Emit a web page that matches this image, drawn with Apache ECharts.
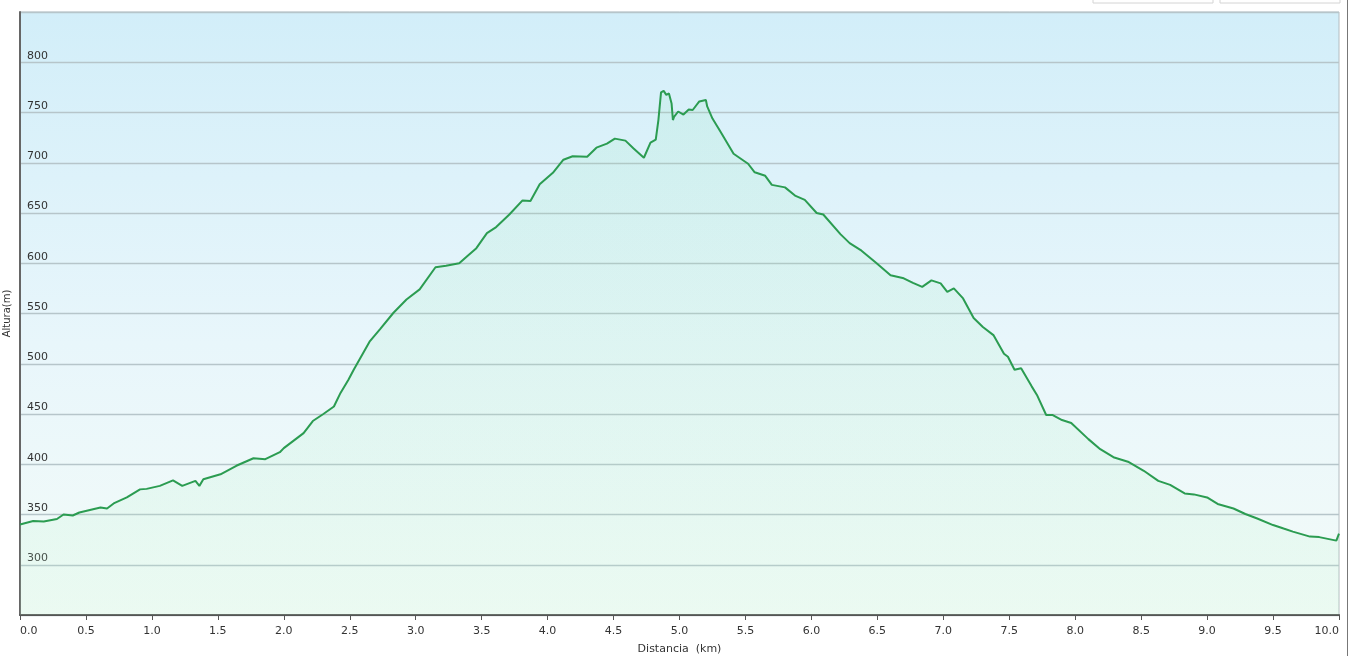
<!DOCTYPE html>
<html>
<head>
<meta charset="utf-8">
<script src="https://cdn.jsdelivr.net/npm/echarts@6/dist/echarts.min.js"></script>
<style>
  html, body { margin: 0; padding: 0; background: #fff; }
  #chart { width: 1352px; height: 656px; }
</style>
</head>
<body>
<div id="chart"></div>
<script>
// perfil de altura: distancia (km) y altura (m)
var distancia = [
  0, 0.1, 0.18, 0.28, 0.33, 0.40, 0.45, 0.61, 0.66, 0.71,
  0.81, 0.91, 0.96, 1.06, 1.16, 1.23, 1.33, 1.36, 1.39, 1.52,
  1.64, 1.77, 1.86, 1.97, 2.0, 2.1, 2.15, 2.22, 2.30, 2.38,
  2.43, 2.49, 2.53, 2.65, 2.73, 2.83, 2.93, 3.03, 3.15, 3.23,
  3.33, 3.39, 3.46, 3.54, 3.61, 3.71, 3.81, 3.87, 3.94, 4.04,
  4.12, 4.19, 4.30, 4.37, 4.45, 4.51, 4.59, 4.65, 4.73, 4.78,
  4.82, 4.84, 4.86, 4.88, 4.90, 4.92, 4.94, 4.95, 4.96, 4.99,
  5.03, 5.07, 5.10, 5.15, 5.20, 5.21, 5.25, 5.31, 5.41, 5.52,
  5.57, 5.65, 5.70, 5.80, 5.88, 5.95, 6.04, 6.09, 6.22, 6.29,
  6.38, 6.49, 6.60, 6.70, 6.77, 6.84, 6.91, 6.98, 7.03, 7.08,
  7.15, 7.23, 7.30, 7.38, 7.46, 7.49, 7.54, 7.59, 7.67, 7.71,
  7.78, 7.83, 7.90, 7.97, 8.10, 8.19, 8.29, 8.40, 8.52, 8.63,
  8.72, 8.83, 8.90, 9.00, 9.08, 9.20, 9.29, 9.38, 9.50, 9.58,
  9.65, 9.78, 9.85, 9.98, 10.0
]
var altura = [
  340, 343.5, 343, 345.5, 350, 349, 352, 357, 356, 361,
  367, 375, 375.5, 378.5, 384, 378.5, 383.5, 378.5, 385, 390,
  398.5, 406, 405, 412, 416, 426, 431, 443, 450, 457.5,
  471, 484, 494, 522, 534.5, 550.5, 564, 574, 596, 597.5,
  600, 607, 615, 630, 636, 648.5, 662.5, 662, 678.5, 690,
  703, 706.5, 706, 715, 719, 724, 722, 714.5, 705, 720,
  723, 742.5, 770, 771.5, 767.5, 769, 759, 742.5, 746, 751,
  748, 753, 752.5, 761, 762.5, 756, 744, 731, 709, 699,
  690.5, 687, 678, 675.5, 667, 663, 650, 648.5, 629, 620,
  612.5, 600.5, 588, 585, 580.5, 576.5, 583, 580, 571.5, 575,
  565, 545.5, 536.5, 528.5, 510, 507, 494, 495.5, 477.5, 469,
  449, 449, 444, 441, 425, 415, 407, 402.5, 393.5, 383.5,
  379.5, 371, 370, 367, 360.5, 356, 350.5, 346, 339.5, 336,
  333, 328, 327.5, 324, 331
]
var yMin = 250
var yMax = 850
var yStep = 50

var myChart = echarts.init(document.getElementById('chart'))
var puntos = distancia.map(function (d, i) { return [d, altura[i]] })

var option = {
  animation: false,
  textStyle: { fontFamily: 'DejaVu Sans' },
  grid: {
    left: 20,
    right: 13,
    top: 12,
    bottom: 41,
    containLabel: false,
    outerBoundsMode: 'none',
    show: true,
    borderColor: '#b3bcc0',
    borderWidth: 1,
    backgroundColor: new echarts.graphic.LinearGradient(0, 0, 0, 1, [
      { offset: 0, color: '#d2eef9' },
      { offset: 0.55, color: '#e8f6fb' },
      { offset: 1, color: '#f3fbf8' }
    ])
  },
  xAxis: {
    type: 'value',
    min: 0,
    max: 10,
    interval: 0.5,
    name: 'Distancia  (km)',
    nameLocation: 'middle',
    nameGap: 29,
    nameTextStyle: { color: '#333', fontSize: 11 },
    axisLine: { show: true, lineStyle: { color: '#555', width: 2 } },
    axisTick: { show: true, length: 5, lineStyle: { color: '#555' } },
    axisLabel: {
      color: '#333',
      fontSize: 11,
      margin: 11,
      alignMinLabel: 'left',
      alignMaxLabel: 'right',
      formatter: function (v) { return v.toFixed(1) }
    },
    splitLine: { show: false }
  },
  yAxis: {
    type: 'value',
    min: yMin,
    max: yMax,
    interval: yStep,
    name: 'Altura(m)',
    nameLocation: 'middle',
    nameGap: 1,
    nameTextStyle: { color: '#333', fontSize: 10, verticalAlign: 'bottom' },
    axisLine: { show: true, lineStyle: { color: '#666', width: 2 } },
    axisTick: { show: false },
    axisLabel: {
      inside: true,
      color: '#333',
      fontSize: 11,
      margin: 7,
      verticalAlign: 'bottom',
      padding: [0, 0, 1, 0],
      showMinLabel: false,
      showMaxLabel: false
    },
    splitLine: { show: true, lineStyle: { color: '#b6c5ca', width: 1.3 } }
  },
  graphic: [
    { type: 'rect', shape: { x: 1093, y: -6, width: 120, height: 9 }, style: { fill: '#fff', stroke: '#d4d4d4' } },
    { type: 'rect', shape: { x: 1220, y: -6, width: 120, height: 9 }, style: { fill: '#fff', stroke: '#d4d4d4' } },
    { type: 'line', shape: { x1: 1347.5, y1: 0, x2: 1347.5, y2: 656 }, style: { stroke: '#777', lineWidth: 1 } }
  ],
  series: [{
    type: 'line',
    data: puntos,
    showSymbol: false,
    smooth: false,
    lineStyle: { color: '#2b9c51', width: 2 },
    itemStyle: { color: '#2b9c51' },
    areaStyle: {
      color: new echarts.graphic.LinearGradient(0, 0, 0, 1, [
        { offset: 0, color: 'rgba(120, 225, 160, 0.16)' },
        { offset: 1, color: 'rgba(190, 245, 205, 0.22)' }
      ])
    }
  }]
}
myChart.setOption(option)
</script>
</body>
</html>
